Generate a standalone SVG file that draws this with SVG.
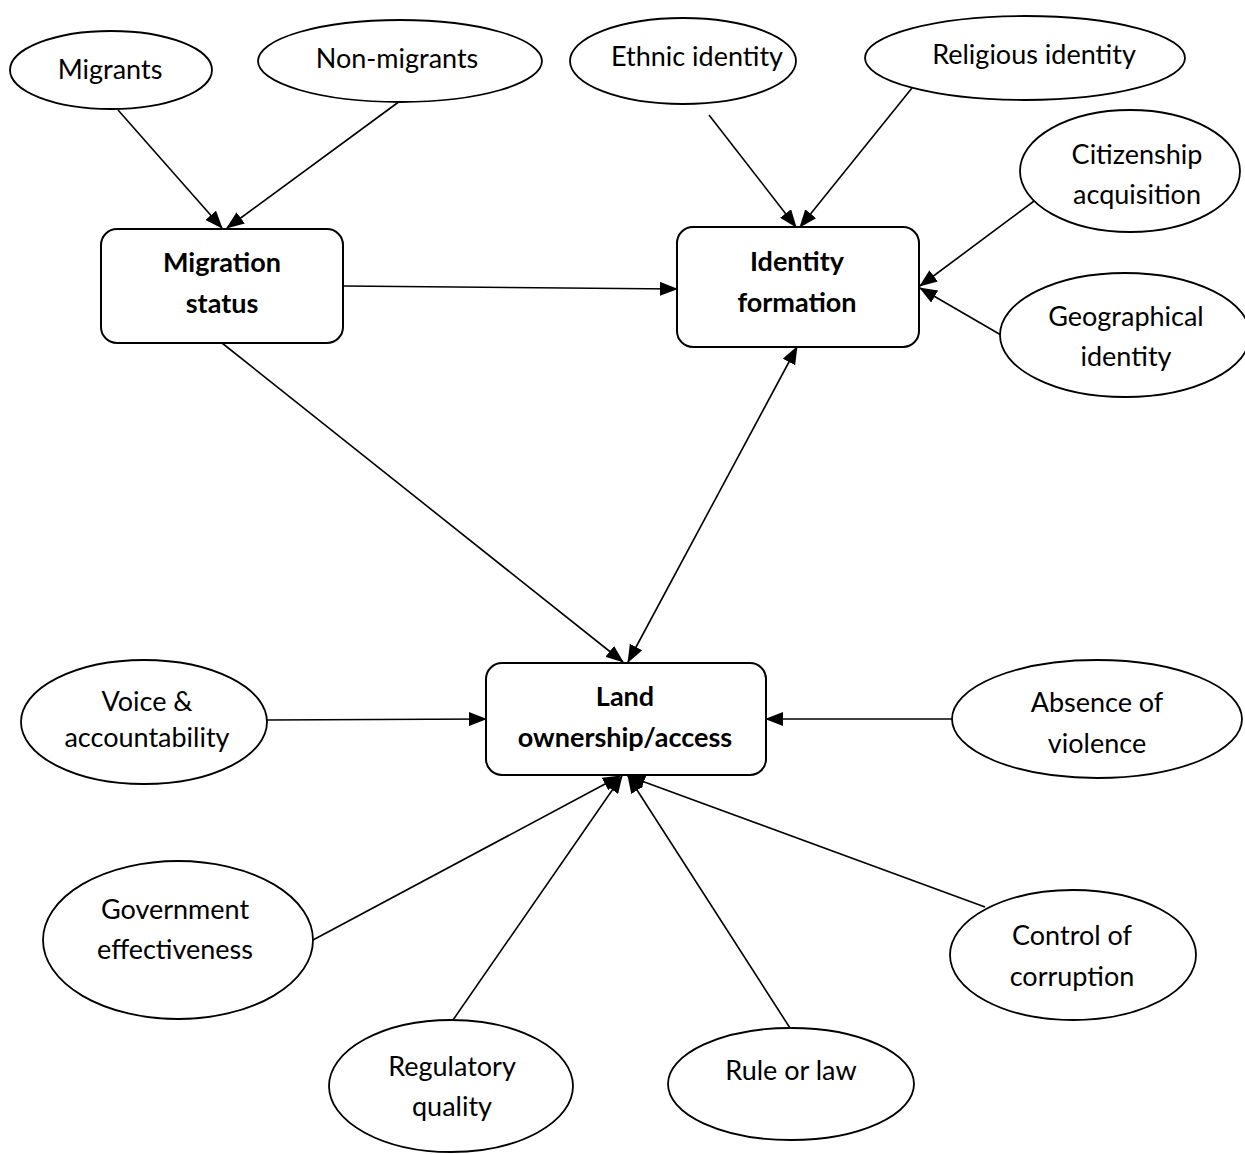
<svg xmlns="http://www.w3.org/2000/svg" width="1245" height="1154" viewBox="0 0 1245 1154">
<defs>
<marker id="arr" markerUnits="userSpaceOnUse" markerWidth="18" markerHeight="14" viewBox="0 0 18 14" refX="17" refY="7" orient="auto-start-reverse">
<path d="M0,0 L18,7 L0,14 Z" fill="#000"/>
</marker>
<style>
.e{fill:#fff;stroke:#000;stroke-width:1.8}
.b{fill:#fff;stroke:#000;stroke-width:2}
.t{font-family:Lato,"Liberation Sans",sans-serif;font-size:27px;fill:#000;text-anchor:middle}
.tb{font-family:Lato,"Liberation Sans",sans-serif;font-size:27px;font-weight:bold;fill:#000;text-anchor:middle}
.c line{stroke:#000;stroke-width:1.6;marker-end:url(#arr)}
</style>
</defs>
<rect width="1245" height="1154" fill="#fff"/>
<g class="c" id="connectors">
<line x1="118" y1="110" x2="222" y2="228"/>
<line x1="400" y1="101" x2="227" y2="228"/>
<line x1="344" y1="286" x2="677" y2="289"/>
<line x1="222" y1="343" x2="623" y2="662"/>
<line x1="797" y1="347" x2="628" y2="662" marker-start="url(#arr)"/>
<line x1="709" y1="115" x2="796" y2="227"/>
<line x1="912" y1="88" x2="800" y2="227"/>
<line x1="1053" y1="187" x2="920" y2="286"/>
<line x1="1001" y1="335" x2="920" y2="288"/>
<line x1="267" y1="720" x2="486" y2="719"/>
<line x1="952" y1="719" x2="766" y2="719"/>
<line x1="313" y1="940" x2="620" y2="776"/>
<line x1="453" y1="1020" x2="622" y2="776"/>
<line x1="790" y1="1028" x2="628" y2="776"/>
<line x1="985" y1="907" x2="628" y2="776"/>
</g>
<g id="migrants"><ellipse class="e" cx="111" cy="70" rx="101" ry="39"/><text class="t" x="110" y="79">Migrants</text></g>
<g id="non-migrants"><ellipse class="e" cx="400" cy="61" rx="142" ry="41"/><text class="t" x="397" y="68">Non-migrants</text></g>
<g id="ethnic"><ellipse class="e" cx="683" cy="61" rx="113" ry="43"/><text class="t" x="697" y="66">Ethnic identity</text></g>
<g id="religious"><ellipse class="e" cx="1025" cy="58" rx="160" ry="42"/><text class="t" x="1034" y="64">Religious identity</text></g>
<g id="citizenship"><ellipse class="e" cx="1130" cy="171" rx="110" ry="61"/><text class="t" x="1137" y="164">Citizenship</text><text class="t" x="1137" y="204">acquisition</text></g>
<g id="geographical"><ellipse class="e" cx="1125" cy="335" rx="125" ry="62"/><text class="t" x="1126" y="326">Geographical</text><text class="t" x="1126" y="366">identity</text></g>
<g id="migration-status"><rect class="b" x="101" y="229" width="242" height="114" rx="16"/><text class="tb" x="222" y="272">Migration</text><text class="tb" x="222" y="313">status</text></g>
<g id="identity-formation"><rect class="b" x="677" y="227" width="242" height="120" rx="16"/><text class="tb" x="797" y="271">Identity</text><text class="tb" x="797" y="312">formation</text></g>
<g id="land"><rect class="b" x="486" y="663" width="280" height="112" rx="16"/><text class="tb" x="625" y="706">Land</text><text class="tb" x="625" y="747">ownership/access</text></g>
<g id="voice"><ellipse class="e" cx="144" cy="722" rx="123" ry="62"/><text class="t" x="147" y="711">Voice &amp;</text><text class="t" x="147" y="747">accountability</text></g>
<g id="absence"><ellipse class="e" cx="1097" cy="719" rx="145" ry="59"/><text class="t" x="1097" y="712">Absence of</text><text class="t" x="1097" y="753">violence</text></g>
<g id="government"><ellipse class="e" cx="178" cy="940" rx="135" ry="79"/><text class="t" x="175" y="919">Government</text><text class="t" x="175" y="959">effectiveness</text></g>
<g id="regulatory"><ellipse class="e" cx="451" cy="1086" rx="122" ry="66"/><text class="t" x="452" y="1076">Regulatory</text><text class="t" x="452" y="1116">quality</text></g>
<g id="rule"><ellipse class="e" cx="791" cy="1084" rx="123" ry="56"/><text class="t" x="791" y="1080">Rule or law</text></g>
<g id="control"><ellipse class="e" cx="1073" cy="955" rx="123" ry="65"/><text class="t" x="1072" y="945">Control of</text><text class="t" x="1072" y="986">corruption</text></g>
</svg>
